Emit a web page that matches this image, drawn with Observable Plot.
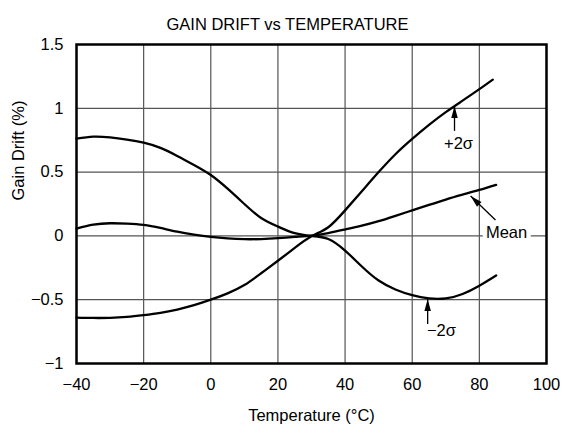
<!DOCTYPE html>
<html>
<head>
<meta charset="utf-8">
<script src="https://cdn.jsdelivr.net/npm/d3@7"></script>
<script src="https://cdn.jsdelivr.net/npm/@observablehq/plot@0.6"></script>
<style>
  html, body { margin: 0; padding: 0; background: #fff; }
</style>
</head>
<body>
<div id="chart"></div>
<script>
const title = "GAIN DRIFT vs TEMPERATURE";
const xLabel = "Temperature (°C)";
const yLabel = "Gain Drift (%)";
const xTicks = [-40, -20, 0, 20, 40, 60, 80, 100];
const yTicks = [-1, -0.5, 0, 0.5, 1, 1.5];

// Mean curve
const meanX = [-40, -35, -30, -25, -20, -15, -10, -5, 0, 5, 10, 15, 20, 25, 30, 35, 40, 45, 50, 55, 60, 65, 70, 75, 80, 85];
const meanY = [0.057, 0.088, 0.099, 0.096, 0.086, 0.062, 0.033, 0.01, -0.008, -0.02, -0.026, -0.025, -0.018, -0.008, 0.002, 0.022, 0.05, 0.08, 0.115, 0.157, 0.2, 0.243, 0.285, 0.323, 0.36, 0.4];

// +2 sigma curve
const plusX = [-40, -35, -30, -25, -20, -15, -10, -5, 0, 5, 10, 15, 20, 25, 30, 35, 40, 45, 50, 55, 60, 65, 70, 75, 80, 84];
const plusY = [-0.64, -0.643, -0.642, -0.635, -0.621, -0.603, -0.577, -0.543, -0.5, -0.45, -0.385, -0.293, -0.195, -0.094, -0.003, 0.068, 0.2, 0.35, 0.5, 0.64, 0.76, 0.87, 0.97, 1.06, 1.15, 1.225];

// -2 sigma curve
const minusX = [-40, -35, -30, -25, -20, -15, -10, -5, 0, 5, 10, 15, 20, 25, 30, 35, 40, 45, 50, 55, 60, 65, 70, 75, 80, 85];
const minusY = [0.762, 0.778, 0.772, 0.755, 0.731, 0.69, 0.627, 0.556, 0.477, 0.37, 0.25, 0.14, 0.073, 0.021, 0.0, -0.024, -0.115, -0.24, -0.35, -0.42, -0.465, -0.49, -0.49, -0.455, -0.39, -0.31];

// annotations
const annLabels = ["+2σ", "Mean", "−2σ"];
const annLabelX = [73.8, 88.1, 68.7];
const annLabelY = [0.721, 0.024, -0.745];
const arrowTipX = [72.6, 77.4, 64.6];
const arrowTipY = [1.019, 0.313, -0.494];
const arrowTailX = [72.6, 84.8, 64.6];
const arrowTailY = [0.823, 0.125, -0.69];
const arrowRotate = [0, -46, 0];

const series = [
  {name: "Mean", xs: meanX, ys: meanY},
  {name: "+2σ", xs: plusX, ys: plusY},
  {name: "−2σ", xs: minusX, ys: minusY}
];
const curveData = series.flatMap(s => s.xs.map((x, i) => ({series: s.name, x, y: s.ys[i]})));
const ann = annLabels.map((t, i) => ({
  text: t, lx: annLabelX[i], ly: annLabelY[i],
  x1: arrowTailX[i], y1: arrowTailY[i], x2: arrowTipX[i], y2: arrowTipY[i], rot: arrowRotate[i]
}));

const fmt = d => (d < 0 ? "\u2212" + Math.abs(d) : String(d));
const FONT = "'Liberation Sans', Arial, Helvetica, sans-serif";
const FS = 16.5;

// narrow filled arrowhead, tip at origin pointing up
const arrowHead = {
  draw(context, size) {
    const s = Math.sqrt(size / Math.PI);
    context.moveTo(0, 0);
    context.lineTo(-s * 0.27, s);
    context.lineTo(s * 0.27, s);
    context.closePath();
  }
};

const chart = Plot.plot({
  width: 563,
  height: 434,
  marginLeft: 76,
  marginRight: 17,
  marginTop: 44,
  marginBottom: 71,
  style: {fontFamily: FONT, fontSize: FS + "px", background: "#fff", color: "#000"},
  x: {domain: [-40, 100]},
  y: {domain: [-1, 1.5]},
  marks: [
    Plot.gridX(xTicks, {stroke: "#555", strokeOpacity: 1, strokeWidth: 1.2}),
    Plot.gridY(yTicks, {stroke: "#555", strokeOpacity: 1, strokeWidth: 1.2}),
    Plot.axisX(xTicks, {tickSize: 0, tickPadding: 15, tickFormat: fmt, label: null, fontSize: FS, fontFamily: FONT}),
    Plot.axisY(yTicks, {tickSize: 0, tickPadding: 13, tickFormat: fmt, label: null, fontSize: FS, fontFamily: FONT}),
    Plot.line(curveData, {x: "x", y: "y", z: "series", stroke: "#000", strokeWidth: 2.3, curve: "natural"}),
    Plot.link(ann, {x1: "x1", y1: "y1", x2: "x2", y2: "y2", stroke: "#000", strokeWidth: 1.3}),
    Plot.dot(ann, {x: "x2", y: "y2", symbol: arrowHead, r: 12, fill: "#000", stroke: "none", rotate: "rot"}),
    Plot.text(ann, {x: "lx", y: "ly", text: "text", fontSize: FS, fontFamily: FONT, fill: "#000", stroke: "#fff", strokeWidth: 9, strokeOpacity: 1}),
    Plot.frame({stroke: "#000", strokeWidth: 2.5}),
    Plot.text([title], {frameAnchor: "top", dy: -26, dx: -24, fontSize: FS, fontFamily: FONT, fill: "#000"}),
    Plot.text([xLabel], {frameAnchor: "bottom", dy: 57, fontSize: FS, fontFamily: FONT, fill: "#000"}),
    Plot.text([yLabel], {frameAnchor: "left", dx: -58, dy: -3.5, rotate: -90, fontSize: FS, fontFamily: FONT, fill: "#000"})
  ]
});
document.getElementById("chart").appendChild(chart);
</script>
</body>
</html>
